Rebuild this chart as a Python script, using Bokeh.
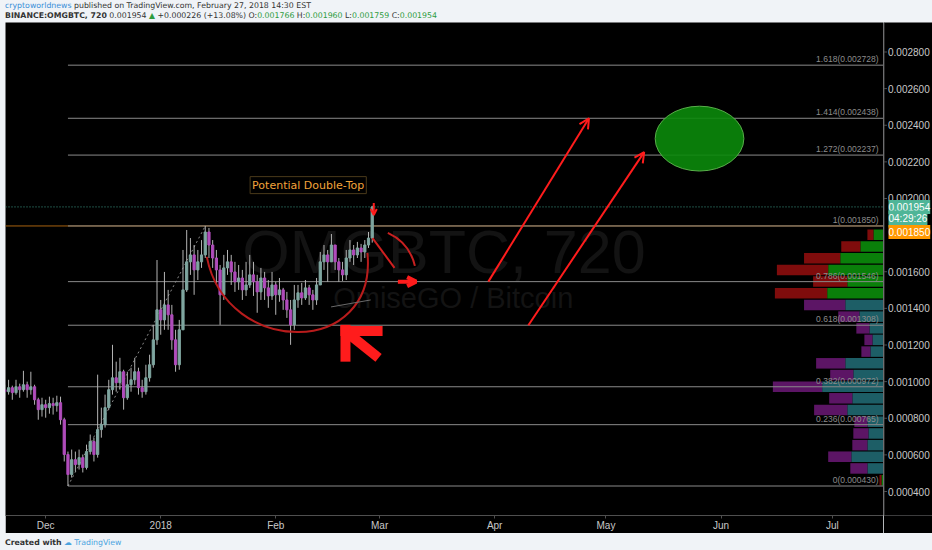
# OMGBTC 12h chart (TradingView snapshot) redrawn with Bokeh

import pandas as pd
from bokeh.plotting import figure
from bokeh.models import (ColumnDataSource, Range1d, FixedTicker, Span, Label, Arrow, OpenHead, Div)
from bokeh.layouts import column, row
from bokeh.core.properties import value
from bokeh.embed import file_html
from bokeh.resources import INLINE


# candles, one per day from the first day on the chart
first_day = "2017-11-20"
opens = [0.000956, 0.000945, 0.000967, 0.000940, 0.000972, 0.000956, 0.000983, 0.000956, 0.000972, 0.000901,
         0.000847, 0.000874, 0.000858, 0.000880, 0.000869, 0.000885, 0.000792, 0.000602, 0.000493, 0.000574,
         0.000547, 0.000585, 0.000531, 0.000618, 0.000673, 0.000602, 0.000738, 0.000765, 0.000858, 0.000956,
         0.001021, 0.000994, 0.001054, 0.000912, 0.000983, 0.001010, 0.001054, 0.000967, 0.000945, 0.001021,
         0.001092, 0.001228, 0.001392, 0.001337, 0.001419, 0.001365, 0.001228, 0.001092, 0.001283, 0.001501,
         0.001654, 0.001692, 0.001610, 0.001654, 0.001692, 0.001817, 0.001746, 0.001675, 0.001610, 0.001474,
         0.001621, 0.001654, 0.001599, 0.001545, 0.001566, 0.001501, 0.001528, 0.001583, 0.001545, 0.001490,
         0.001566, 0.001512, 0.001468, 0.001528, 0.001474, 0.001501, 0.001446, 0.001392, 0.001310, 0.001446,
         0.001485, 0.001457, 0.001512, 0.001474, 0.001446, 0.001528, 0.001654, 0.001692, 0.001654, 0.001746,
         0.001654, 0.001610, 0.001583, 0.001675, 0.001719, 0.001692, 0.001730, 0.001708, 0.001746, 0.001784]
highs = [0.000983, 0.001010, 0.000978, 0.001010, 0.000989, 0.001059, 0.001000, 0.001054, 0.000983, 0.000912,
         0.000912, 0.000901, 0.000918, 0.000912, 0.000923, 0.000918, 0.000803, 0.000618, 0.000629, 0.000618,
         0.000629, 0.000602, 0.000656, 0.000711, 0.000694, 0.001038, 0.000858, 0.000929, 0.001010, 0.001201,
         0.001109, 0.001130, 0.001065, 0.001054, 0.001076, 0.001130, 0.001076, 0.001010, 0.001092, 0.001147,
         0.001310, 0.001664, 0.001446, 0.001599, 0.001501, 0.001419, 0.001283, 0.001337, 0.001719, 0.001828,
         0.001784, 0.001746, 0.001719, 0.001773, 0.001850, 0.001839, 0.001773, 0.001719, 0.001637, 0.001692,
         0.001719, 0.001692, 0.001654, 0.001637, 0.001610, 0.001654, 0.001692, 0.001654, 0.001583, 0.001621,
         0.001599, 0.001555, 0.001599, 0.001545, 0.001566, 0.001512, 0.001490, 0.001446, 0.001528, 0.001528,
         0.001539, 0.001555, 0.001528, 0.001501, 0.001566, 0.001708, 0.001746, 0.001719, 0.001806, 0.001746,
         0.001675, 0.001654, 0.001719, 0.001773, 0.001746, 0.001763, 0.001752, 0.001773, 0.001817, 0.001960]
lows = [0.000912, 0.000929, 0.000901, 0.000929, 0.000912, 0.000945, 0.000912, 0.000929, 0.000874, 0.000792,
        0.000809, 0.000803, 0.000825, 0.000820, 0.000836, 0.000765, 0.000564, 0.000430, 0.000476, 0.000509,
        0.000520, 0.000504, 0.000520, 0.000602, 0.000564, 0.000585, 0.000694, 0.000749, 0.000847, 0.000929,
        0.000945, 0.000956, 0.000847, 0.000901, 0.000945, 0.000983, 0.000929, 0.000912, 0.000929, 0.001000,
        0.001076, 0.001201, 0.001256, 0.001283, 0.001283, 0.001174, 0.001054, 0.001065, 0.001283, 0.001490,
        0.001583, 0.001474, 0.001555, 0.001621, 0.001675, 0.001675, 0.001621, 0.001528, 0.001310, 0.001446,
        0.001583, 0.001528, 0.001490, 0.001501, 0.001446, 0.001468, 0.001512, 0.001468, 0.001376, 0.001446,
        0.001446, 0.001403, 0.001446, 0.001365, 0.001436, 0.001392, 0.001348, 0.001201, 0.001283, 0.001403,
        0.001419, 0.001446, 0.001419, 0.001392, 0.001419, 0.001528, 0.001610, 0.001545, 0.001654, 0.001610,
        0.001545, 0.001550, 0.001555, 0.001654, 0.001637, 0.001675, 0.001654, 0.001675, 0.001730, 0.001759]
closes = [0.000945, 0.000967, 0.000940, 0.000972, 0.000956, 0.000983, 0.000956, 0.000972, 0.000901, 0.000847,
          0.000874, 0.000858, 0.000880, 0.000869, 0.000885, 0.000792, 0.000602, 0.000493, 0.000574, 0.000547,
          0.000585, 0.000531, 0.000618, 0.000673, 0.000602, 0.000738, 0.000765, 0.000858, 0.000956, 0.001021,
          0.000994, 0.001054, 0.000912, 0.000983, 0.001010, 0.001054, 0.000967, 0.000945, 0.001021, 0.001092,
          0.001228, 0.001392, 0.001337, 0.001419, 0.001365, 0.001228, 0.001092, 0.001283, 0.001501, 0.001654,
          0.001692, 0.001610, 0.001654, 0.001692, 0.001817, 0.001746, 0.001675, 0.001610, 0.001474, 0.001621,
          0.001654, 0.001599, 0.001545, 0.001566, 0.001501, 0.001528, 0.001583, 0.001545, 0.001490, 0.001566,
          0.001512, 0.001468, 0.001528, 0.001474, 0.001501, 0.001446, 0.001392, 0.001310, 0.001446, 0.001485,
          0.001457, 0.001512, 0.001474, 0.001446, 0.001528, 0.001654, 0.001692, 0.001654, 0.001746, 0.001654,
          0.001610, 0.001583, 0.001675, 0.001719, 0.001692, 0.001730, 0.001708, 0.001746, 0.001784, 0.001954]

last_price = 0.001954
prev_line = 0.001850
countdown = "04:29:26"

# fibonacci retracement drawn from the Dec low to the Jan high
fib_start = "2017-12-07"
fib_high_day = "2018-01-13"
fib_ratios = ["0", "0.236", "0.382", "0.618", "0.786", "1", "1.272", "1.414", "1.618"]
fib_prices = [0.000430, 0.000765, 0.000972, 0.001308, 0.001546, 0.001850, 0.002237, 0.002438, 0.002728]

# visible range volume profile (rows bottom to top)
vp_price = [0.000462, 0.000526, 0.000590, 0.000653, 0.000717, 0.000781, 0.000845, 0.000909, 0.000972, 0.001036, 0.001100,
            0.001164, 0.001228, 0.001291, 0.001355, 0.001419, 0.001483, 0.001547, 0.001610, 0.001674, 0.001738, 0.001802]
vp_up = [2, 16, 32, 16, 15, 16, 36, 31, 61, 30, 38, 13, 11, 14, 24, 38, 56, 36, 55, 43, 23, 10]
vp_down = [2, 17, 23, 15, 15, 13, 33, 23, 49, 23, 29, 9, 8, 13, 21, 41, 52, 34, 51, 36, 19, 6]

# axis ticks
month_ticks = ["2017-12-01", "2018-01-01", "2018-02-01", "2018-03-01",
               "2018-04-01", "2018-05-01", "2018-06-01", "2018-07-01"]
month_labels = ["Dec", "2018", "Feb", "Mar", "Apr", "May", "Jun", "Jul"]
price_ticks = [0.0004, 0.0006, 0.0008, 0.0010, 0.0012, 0.0014, 0.0016,
               0.0020, 0.0022, 0.0024, 0.0026, 0.0028]

# hand drawn marks (date, price)
cup = dict(x0="2018-01-13 10:00", y0=0.001681, cx0="2018-01-18 19:00", cy0=0.001130,
           cx1="2018-02-28 12:00", cy1=0.001130, x1="2018-02-25 17:00", y1=0.001703)
up_arrows = [("2018-03-30 07:00", 0.001546, "2018-04-26 10:00", 0.002438),
             ("2018-04-10 02:00", 0.001308, "2018-05-11 07:00", 0.002253)]
target_day, target_price = "2018-05-26 05:00", 0.002327


def ms(s):
    return pd.Timestamp(s).value / 1e6


DAY = 86400000.0
UP, DOWN, WICK = "#7fa6a0", "#b04cbb", "#b4b4b4"
RED = "#ff1c1c"
AXIS_GREY = "#4f4f4f"
LABEL_GREY = "#c8c8c8"

dates = pd.date_range(first_day, periods=len(closes), freq="D")
src = ColumnDataSource(dict(
    t=dates, o=opens, h=highs, l=lows, c=closes,
    col=[UP if c >= o else DOWN for o, c in zip(opens, closes)],
))

x0, x1 = ms("2017-11-20 04:00"), ms("2018-07-14 19:00")
yr = Range1d(0.000269, 0.002961)

p = figure(width=878, height=511, x_axis_type="datetime",
           x_range=Range1d(x0, x1), y_range=yr, y_axis_location=None,
           toolbar_location=None, output_backend="svg",
           background_fill_color="black", border_fill_color="black",
           outline_line_color=None, min_border_left=0, min_border_top=0,
           min_border_right=0, min_border_bottom=17, margin=(0, 0, 0, 5))
p.grid.visible = False
p.extra_x_ranges = {"vp": Range1d(873, 0)}

# watermark
p.add_layout(Label(x=ms("2018-03-18 08:00"), y=0.001708, text="OMGBTC, 720", text_align="center",
                   text_baseline="middle", text_font_size="61px", text_font="Liberation Sans",
                   text_color="#131313", level="underlay"))
p.add_layout(Label(x=ms("2018-03-20 20:00"), y=0.001457, text="OmiseGO / Bitcoin", text_align="center",
                   text_baseline="middle", text_font_size="29px", text_font="Liberation Sans",
                   text_color="#131313", level="underlay"))

p.add_layout(Span(location=prev_line, dimension="width", line_color="#a8620f", line_width=1, level="underlay"))
p.add_layout(Span(location=last_price, dimension="width", line_color="#3d9c8a", line_width=1,
                  line_dash="1 2", level="underlay"))

# volume profile
up_cols = ["#0a7f0a" if (pr > 0.00145 or pr < 0.0005) else "#1d5e66" for pr in vp_price]
dn_cols = ["#7f0c0c" if (pr > 0.00145 or pr < 0.0005) else "#5c1565" for pr in vp_price]
vp = ColumnDataSource(dict(y=vp_price, up=vp_up, tot=[u + d for u, d in zip(vp_up, vp_down)],
                           uc=up_cols, dc=dn_cols))
p.hbar(y="y", left=0, right="up", height=0.0000575, fill_color="uc", line_color=None,
       source=vp, x_range_name="vp")
p.hbar(y="y", left="up", right="tot", height=0.0000575, fill_color="dc", line_color=None,
       source=vp, x_range_name="vp")

# fib levels
fib_x0 = ms(fib_start)
p.segment(x0=[fib_x0] * len(fib_prices), y0=fib_prices, x1=[x1] * len(fib_prices), y1=fib_prices,
          line_color="#8a8a8a", line_width=1)
p.text(x=[x1] * len(fib_prices), y=fib_prices,
       text=["%s(%.6f)" % (r, v) for r, v in zip(fib_ratios, fib_prices)],
       text_align="right", text_baseline="bottom", x_offset=-5, y_offset=-1,
       text_font=value("Liberation Sans"), text_font_size="8.5px", text_color="#8c8c8c")
p.line([ms(fib_start), ms(fib_high_day)], [fib_prices[0], fib_prices[5]],
       line_color="#8a8a8a", line_dash="2 3", line_width=1)

# candles
p.segment(x0="t", y0="h", x1="t", y1="l", line_color=WICK, line_width=1, source=src)
p.vbar(x="t", top="o", bottom="c", width=0.6 * DAY, fill_color="col", line_color="col", source=src)

# drawings
p.bezier(x0=ms(cup["x0"]), y0=cup["y0"], x1=ms(cup["x1"]), y1=cup["y1"],
         cx0=ms(cup["cx0"]), cy0=cup["cy0"], cx1=ms(cup["cx1"]), cy1=cup["cy1"],
         line_color="#b81c1c", line_width=2)
p.quadratic(x0=ms("2018-03-03 05:00"), y0=0.001812, x1=ms("2018-03-10 12:00"), y1=0.001632,
            cx=ms("2018-03-09 02:00"), cy=0.001757, line_color="#c82020", line_width=2)
p.line([ms("2018-02-27 02:00"), ms("2018-03-05")], [0.001784, 0.001621], line_color="#d02020", line_width=2)
p.line([ms("2018-02-15 22:00"), ms("2018-02-26 14:00")], [0.001408, 0.001446], line_color="#6a6a6a", line_width=1)

for xs, ys, xe, ye in up_arrows:
    p.add_layout(Arrow(x_start=ms(xs), y_start=ys, x_end=ms(xe), y_end=ye, line_color=RED, line_width=2,
                       end=OpenHead(size=10, line_color=RED, line_width=2)))
p.add_layout(Arrow(x_start=ms("2018-03-05 22:00"), y_start=fib_prices[4], x_end=ms("2018-03-10 20:00"),
                   y_end=fib_prices[4], line_color=RED, line_width=4,
                   end=OpenHead(size=9, line_color=RED, line_width=4)))
p.add_layout(Arrow(x_start=ms("2018-02-27 10:00"), y_start=0.001975, x_end=ms("2018-02-27 10:00"),
                   y_end=0.001910, line_color=RED, line_width=2,
                   end=OpenHead(size=6, line_color=RED, line_width=2)))
p.multi_line(xs=[[ms("2018-02-18 10:00"), ms("2018-03-01 19:00")],
                 [ms("2018-02-19 19:00"), ms("2018-02-19 19:00")],
                 [ms("2018-02-20 07:00"), ms("2018-02-28 17:00")]],
             ys=[[0.001277, 0.001277], [0.001310, 0.001109], [0.001267, 0.001130]],
             line_color=RED, line_width=10)

p.ellipse(x=ms(target_day), y=target_price, width=23.9 * DAY, height=0.000354,
          fill_color="#0b8a0b", fill_alpha=0.9, line_color="#58b04a", line_width=1)

p.add_layout(Label(x=ms("2018-02-09 18:00"), y=0.002073, text="Potential Double-Top", text_align="center",
                   text_baseline="middle", text_font="DejaVu Sans", text_font_size="11px",
                   text_color="#f2a33a", background_fill_color="black", border_line_color="#4a3a1a",
                   padding=2))

# time axis
xa = p.xaxis[0]
xa.ticker = FixedTicker(ticks=[ms(m) for m in month_ticks])
xa.major_label_overrides = {int(ms(m)): lab for m, lab in zip(month_ticks, month_labels)}
xa.axis_line_color = AXIS_GREY
xa.major_tick_line_color = AXIS_GREY
xa.minor_tick_line_color = None
xa.major_tick_in = 0
xa.major_tick_out = 3
xa.major_label_standoff = 1
xa.major_label_text_color = LABEL_GREY
xa.major_label_text_font = "Liberation Sans"
xa.major_label_text_font_size = "10px"

# price scale strip on the right, sharing the y range
q = figure(width=50, height=511, x_range=Range1d(0, 50), y_range=yr,
           x_axis_location=None, y_axis_location=None,
           toolbar_location=None, output_backend="svg",
           background_fill_color="black", border_fill_color="black",
           outline_line_color=None, min_border_left=0, min_border_top=0,
           min_border_right=0, min_border_bottom=17, margin=(0, 4, 0, 0))
q.grid.visible = False
q.add_layout(Span(location=0.5, dimension="height", line_color=AXIS_GREY, line_width=1))
q.segment(x0=[0.5] * len(price_ticks), y0=price_ticks, x1=[3.5] * len(price_ticks), y1=price_ticks,
          line_color=AXIS_GREY, line_width=1)
q.text(x=[4.5] * len(price_ticks), y=price_ticks, text=["%.6f" % t for t in price_ticks],
       text_align="left", text_baseline="middle", text_font=value("Liberation Sans"),
       text_font_size="10px", text_color=LABEL_GREY)

# price badges
for txt, yv, dy, bg in [("%.6f" % last_price, last_price, 0, "#4fb597"),
                        (countdown, last_price, -12, "#4fb597"),
                        ("%.6f" % prev_line, prev_line, -6, "#ff9800")]:
    q.add_layout(Label(x=5, y=yv, text=txt, y_offset=dy, text_align="left",
                       text_baseline="middle", text_font="Liberation Sans", text_font_size="10px",
                       text_color="white", background_fill_color=bg, padding=(0, 3)))

header = Div(text=(
    '<div><span style="color:#3a8fd8">cryptoworldnews</span> published on TradingView.com, '
    'February 27, 2018 14:30 EST</div>'
    '<div><b>BINANCE:OMGBTC, 720</b> 0.001954 <span style="color:#2e9c3e">&#9650;</span> +0.000226 (+13.08%) '
    'O:<span style="color:#2e9c3e">0.001766</span> H:<span style="color:#2e9c3e">0.001960</span> '
    'L:<span style="color:#2e9c3e">0.001759</span> C:<span style="color:#2e9c3e">0.001954</span></div>'),
    width=927, height=22, margin=(0, 0, 0, 5),
    styles={"font-family": "DejaVu Sans", "font-size": "7.8px", "line-height": "10px",
            "padding-top": "1px", "color": "#333333"})
footer = Div(text=(
    '<b>Created with</b> <span style="color:#4aa3df">&#9729; TradingView</span>'),
    width=927, height=17, margin=(0, 0, 0, 5),
    styles={"font-family": "DejaVu Sans", "font-size": "7.8px", "line-height": "19px", "color": "#333333"})

page = column(header, row(p, q, spacing=0), footer, spacing=0,
              styles={"background-color": "#f0f3f7"})

open("out.html", "w").write(file_html(page, INLINE))
